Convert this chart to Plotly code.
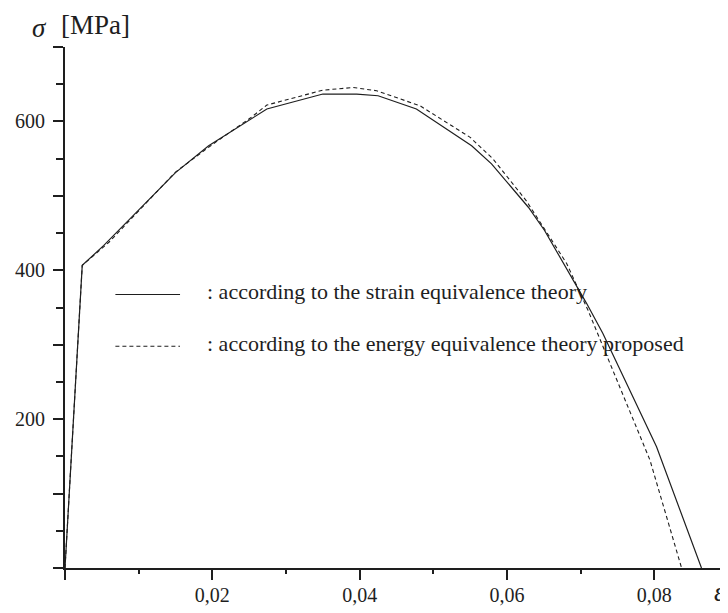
import plotly.graph_objects as go

# strain (-) vs stress (MPa)
strain_strain_eq = [0.0, 0.00234, 0.00527, 0.0150, 0.0195, 0.0274, 0.0350, 0.0396, 0.0425,
                    0.0477, 0.0552, 0.0579, 0.0629, 0.0651, 0.0708, 0.0730, 0.0803, 0.0864]
stress_strain_eq = [0, 406.6, 433.4, 531.2, 567.4, 616.7, 636.8, 636.8, 634.5,
                    616.7, 567.4, 542.9, 484.7, 453.5, 355.6, 315.4, 162.9, 0]

strain_energy_eq = [0.0, 0.00234, 0.0060, 0.0150, 0.0200, 0.0252, 0.0274, 0.0350, 0.0391, 0.0423,
                    0.0482, 0.0550, 0.0581, 0.0626, 0.0681, 0.0710, 0.0794, 0.0837]
stress_energy_eq = [0, 406.6, 438, 532, 569, 604.9, 622, 642, 645.6, 641.2,
                    621, 578.6, 549.6, 493.7, 409.2, 346.2, 145.2, 0]

x_major = [0, 0.02, 0.04, 0.06, 0.08]
x_labels = ["", "0,02", "0,04", "0,06", "0,08"]
y_major = [0, 100, 200, 300, 400, 500, 600, 700]
y_labels = ["", "", "200", "", "400", "", "600", ""]

legend_texts = [": according to the strain equivalence theory",
                ": according to the energy equivalence theory proposed"]

INK = "#1e1e1e"
SERIF = "Liberation Serif, Times New Roman, serif"

fig = go.Figure()
fig.add_trace(go.Scatter(x=strain_strain_eq, y=stress_strain_eq, mode="lines",
                         line=dict(color=INK, width=1.2), showlegend=False))
fig.add_trace(go.Scatter(x=strain_energy_eq, y=stress_energy_eq, mode="lines",
                         line=dict(color=INK, width=1.1, dash="4px,3px"), showlegend=False))

axis_common = dict(showline=True, linecolor=INK, linewidth=2, showgrid=False, zeroline=False,
                   ticks="outside", tickwidth=2, tickcolor=INK, ticklen=10, automargin=False,
                   tickfont=dict(family=SERIF, size=20, color=INK), tickmode="array")

fig.update_xaxes(range=[0, 0.09], tickvals=x_major, ticktext=x_labels, ticklabelstandoff=-2,
                 minor=dict(tickmode="linear", tick0=0, dtick=0.01, ticks="outside",
                            ticklen=4, tickwidth=2, tickcolor=INK),
                 **axis_common)
fig.update_yaxes(range=[0, 700], tickvals=y_major, ticktext=y_labels, ticklabelstandoff=4,
                 minor=dict(tickmode="linear", tick0=0, dtick=50, ticks="outside",
                            ticklen=7, tickwidth=2, tickcolor=INK),
                 **axis_common)

# legend drawn by hand, as in the original figure
legend_y = [0.525, 0.4255]
legend_dash = ["solid", "4px,3px"]
for yy, dash, text in zip(legend_y, legend_dash, legend_texts):
    fig.add_shape(type="line", xref="paper", yref="paper", x0=0.076, x1=0.1735, y0=yy, y1=yy,
                  line=dict(color=INK, width=1.1, dash=dash))
    fig.add_annotation(x=0.2112, y=yy + 0.005, xref="paper", yref="paper", xanchor="left",
                       yanchor="middle", text=text, showarrow=False,
                       font=dict(family=SERIF, size=22, color=INK))

# axis titles
fig.add_annotation(x=-0.053, y=1.036, xref="paper", yref="paper", xanchor="left", yanchor="middle",
                   text="<i>σ</i>", showarrow=False, font=dict(family=SERIF, size=27, color=INK))
fig.add_annotation(x=-0.009, y=1.042, xref="paper", yref="paper", xanchor="left", yanchor="middle",
                   text="[MPa]", showarrow=False, font=dict(family=SERIF, size=27, color=INK))
fig.add_annotation(x=0.976, y=-0.047, xref="paper", yref="paper", xanchor="left", yanchor="middle",
                   text="<i>ε</i>", showarrow=False, font=dict(family=SERIF, size=27, color=INK))

# the page body adds an 8px offset, so margins are shifted to keep the plot where the reference has it
fig.update_layout(width=728, height=613, margin=dict(l=57, r=8, t=39, b=53),
                  plot_bgcolor="white", paper_bgcolor="white")

fig.write_html("out.html")
